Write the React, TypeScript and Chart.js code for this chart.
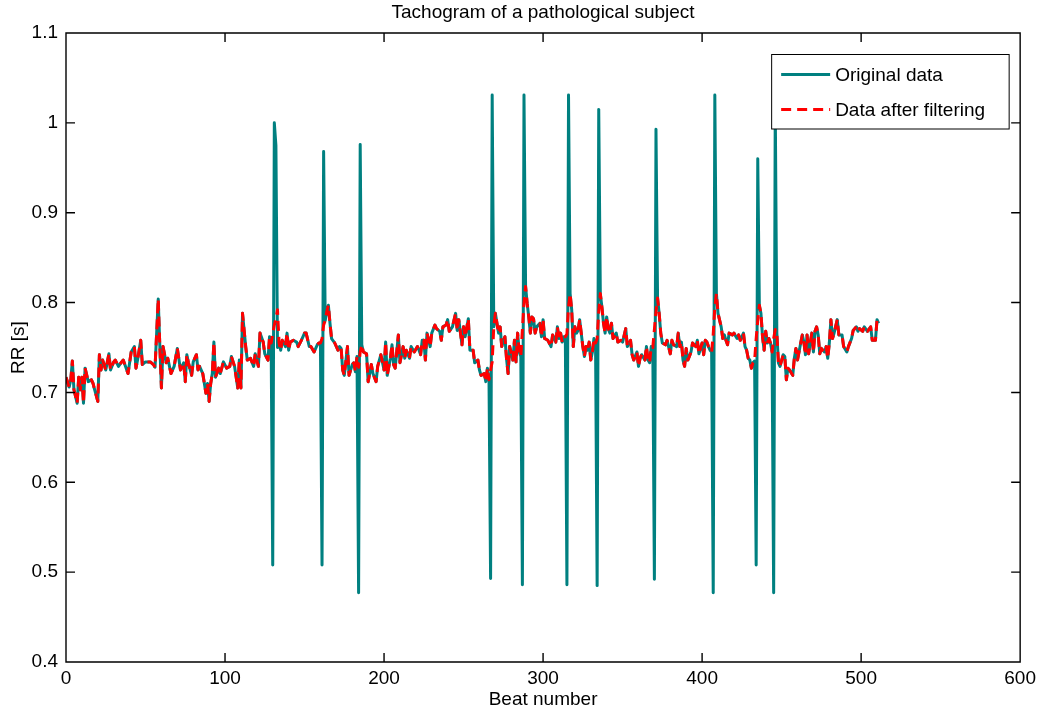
import React, { useEffect, useRef } from 'react';
import { Chart, registerables } from 'chart.js';

Chart.register(...registerables);

// ---- Data ----
const chartTitle = 'Tachogram of a pathological subject';
const xAxisLabel = 'Beat number';
const yAxisLabel = 'RR [s]';
const seriesNames = ['Original data', 'Data after filtering'];

// Beat numbers at which values were read
const beats = [
  0, 2, 3, 4, 5, 7, 8, 9, 10, 11,
  12, 14, 16, 17, 18, 20, 21, 22, 23, 25,
  26, 27, 28, 30, 31, 33, 35, 36, 39, 41,
  43, 44, 45, 47, 48, 50, 51, 53, 55, 56,
  58, 59, 60, 61, 63, 64, 66, 68, 70, 72,
  74, 75, 76, 77, 79, 80, 82, 83, 84, 86,
  88, 89, 90, 91, 92, 93, 94, 96, 97, 99,
  101, 103, 104, 106, 107, 108, 109, 110, 111, 113,
  114, 116, 118, 119, 121, 122, 124, 125, 127, 128,
  129, 130, 131, 132, 133, 134, 135, 136, 138, 139,
  140, 141, 143, 145, 146, 148, 150, 151, 153, 154,
  156, 158, 159, 160, 161, 162, 163, 164, 165, 166,
  167, 169, 171, 172, 173, 174, 175, 177, 178, 180,
  181, 182, 183, 184, 185, 186, 187, 189, 190, 192,
  193, 195, 196, 198, 200, 201, 202, 204, 205, 206,
  207, 209, 210, 212, 213, 214, 216, 217, 219, 221,
  222, 223, 224, 225, 226, 227, 229, 230, 232, 233,
  235, 236, 237, 239, 240, 241, 243, 245, 246, 247,
  249, 250, 251, 253, 254, 256, 257, 259, 260, 261,
  263, 264, 265, 266, 267, 268, 269, 270, 272, 273,
  274, 276, 277, 278, 279, 281, 282, 283, 284, 285,
  286, 287, 288, 289, 290, 291, 292, 293, 294, 295,
  296, 298, 299, 300, 301, 303, 305, 306, 308, 309,
  310, 311, 312, 313, 314, 315, 316, 317, 318, 319,
  320, 321, 322, 323, 324, 325, 326, 327, 328, 329,
  330, 331, 332, 333, 334, 335, 336, 337, 338, 339,
  340, 341, 342, 343, 344, 346, 347, 349, 350, 352,
  353, 355, 356, 357, 359, 360, 361, 362, 364, 365,
  366, 367, 368, 369, 370, 371, 372, 373, 374, 375,
  377, 378, 380, 381, 382, 384, 385, 386, 387, 388,
  389, 390, 391, 392, 393, 394, 396, 397, 398, 400,
  401, 402, 403, 404, 405, 406, 407, 408, 409, 410,
  412, 413, 414, 415, 416, 417, 419, 420, 422, 423,
  424, 426, 427, 428, 429, 430, 431, 432, 433, 434,
  435, 436, 437, 438, 439, 440, 441, 442, 443, 444,
  445, 446, 447, 448, 449, 451, 452, 453, 454, 455,
  457, 458, 459, 460, 462, 463, 464, 465, 466, 467,
  468, 469, 470, 471, 472, 473, 474, 475, 477, 478,
  479, 480, 481, 482, 483, 485, 486, 488, 489, 491,
  492, 494, 495, 497, 498, 499, 501, 502, 504, 506,
  507, 509, 510, 511,
];

// RR intervals after filtering (s), one per entry of `beats`
const filteredRR = [
  0.717, 0.706, 0.714, 0.735, 0.703, 0.688, 0.717, 0.703, 0.717, 0.688,
  0.727, 0.712, 0.714, 0.710, 0.703, 0.690, 0.742, 0.725, 0.736, 0.725,
  0.734, 0.743, 0.725, 0.734, 0.736, 0.729, 0.734, 0.736, 0.721, 0.745,
  0.751, 0.727, 0.736, 0.758, 0.731, 0.734, 0.734, 0.734, 0.731, 0.728,
  0.804, 0.752, 0.705, 0.751, 0.733, 0.738, 0.721, 0.729, 0.749, 0.725,
  0.733, 0.712, 0.742, 0.733, 0.719, 0.734, 0.742, 0.725, 0.729, 0.721,
  0.699, 0.710, 0.690, 0.710, 0.721, 0.756, 0.717, 0.727, 0.721, 0.734,
  0.727, 0.729, 0.740, 0.729, 0.717, 0.705, 0.736, 0.705, 0.788, 0.751,
  0.736, 0.738, 0.729, 0.743, 0.729, 0.766, 0.756, 0.743, 0.736, 0.762,
  0.755, 0.765, 0.775, 0.782, 0.792, 0.755, 0.747, 0.758, 0.751, 0.766,
  0.747, 0.756, 0.758, 0.756, 0.751, 0.758, 0.766, 0.766, 0.751, 0.751,
  0.745, 0.753, 0.755, 0.755, 0.760, 0.775, 0.780, 0.790, 0.797, 0.777,
  0.760, 0.755, 0.747, 0.751, 0.749, 0.725, 0.719, 0.751, 0.719, 0.731,
  0.733, 0.723, 0.740, 0.728, 0.745, 0.753, 0.745, 0.743, 0.712, 0.731,
  0.721, 0.712, 0.729, 0.742, 0.725, 0.756, 0.719, 0.738, 0.753, 0.731,
  0.727, 0.764, 0.733, 0.751, 0.738, 0.747, 0.738, 0.751, 0.745, 0.751,
  0.747, 0.742, 0.758, 0.758, 0.736, 0.766, 0.751, 0.766, 0.775, 0.771,
  0.768, 0.758, 0.773, 0.775, 0.781, 0.768, 0.773, 0.788, 0.769, 0.781,
  0.753, 0.773, 0.762, 0.782, 0.747, 0.747, 0.733, 0.736, 0.725, 0.719,
  0.721, 0.712, 0.727, 0.714, 0.725, 0.734, 0.773, 0.788, 0.766, 0.773,
  0.751, 0.762, 0.738, 0.721, 0.751, 0.736, 0.758, 0.734, 0.766, 0.745,
  0.740, 0.770, 0.800, 0.818, 0.799, 0.784, 0.766, 0.784, 0.782, 0.766,
  0.773, 0.777, 0.762, 0.781, 0.760, 0.758, 0.751, 0.764, 0.756, 0.773,
  0.760, 0.766, 0.756, 0.762, 0.762, 0.765, 0.795, 0.810, 0.792, 0.751,
  0.773, 0.766, 0.769, 0.781, 0.766, 0.751, 0.740, 0.751, 0.747, 0.756,
  0.736, 0.745, 0.760, 0.755, 0.760, 0.790, 0.810, 0.795, 0.777, 0.766,
  0.784, 0.771, 0.766, 0.777, 0.760, 0.766, 0.756, 0.758, 0.756, 0.771,
  0.751, 0.758, 0.742, 0.736, 0.745, 0.729, 0.738, 0.742, 0.736, 0.751,
  0.736, 0.733, 0.751, 0.750, 0.770, 0.790, 0.805, 0.788, 0.766, 0.755,
  0.753, 0.758, 0.743, 0.758, 0.753, 0.751, 0.766, 0.751, 0.756, 0.736,
  0.729, 0.749, 0.736, 0.740, 0.745, 0.755, 0.751, 0.758, 0.743, 0.755,
  0.742, 0.758, 0.756, 0.751, 0.747, 0.745, 0.765, 0.795, 0.810, 0.788,
  0.773, 0.760, 0.764, 0.758, 0.753, 0.766, 0.764, 0.766, 0.760, 0.764,
  0.758, 0.766, 0.751, 0.747, 0.738, 0.736, 0.727, 0.733, 0.735, 0.760,
  0.780, 0.797, 0.788, 0.762, 0.747, 0.768, 0.755, 0.760, 0.755, 0.745,
  0.760, 0.770, 0.766, 0.733, 0.729, 0.742, 0.740, 0.714, 0.727, 0.725,
  0.719, 0.738, 0.749, 0.736, 0.755, 0.764, 0.756, 0.742, 0.764, 0.743,
  0.755, 0.766, 0.745, 0.768, 0.773, 0.764, 0.743, 0.749, 0.745, 0.751,
  0.738, 0.755, 0.781, 0.760, 0.766, 0.781, 0.764, 0.764, 0.751, 0.745,
  0.751, 0.760, 0.769, 0.773, 0.768, 0.771, 0.768, 0.773, 0.768, 0.773,
  0.758, 0.758, 0.781, 0.777,
];

// Ectopic (premature / compensatory) beats in the original data, removed by the filter
const ectopicBeats = [
  130, 131, 132, 133, 161, 162, 184, 185, 267, 268, 287, 288,
  315, 316, 334, 335, 370, 371, 407, 408, 434, 435, 445, 446,
];
const ectopicRR = [
  0.508, 1.0, 0.975, 0.75, 0.508, 0.968, 0.477, 0.976, 0.493, 1.031, 0.486, 1.031,
  0.486, 1.031, 0.485, 1.015, 0.492, 0.993, 0.477, 1.031, 0.508, 0.96, 0.477, 1.02,
];

const xRange = [0, 600];
const xStep = 100;
const yRange = [0.4, 1.1];
const yStep = 0.1;

// ---- Styles ----
const TEAL = 'rgb(0,128,128)';
const RED = 'rgb(255,0,0)';
const FONT_FAMILY = "'Liberation Sans', Arial, Helvetica, sans-serif";
const FONT_SIZE = 19;
const DASH = [10, 6];

const matlabFrame = {
  id: 'matlabFrame',
  afterDraw(chart: any) {
    const { ctx, chartArea } = chart;
    const { left, right, top, bottom } = chartArea;
    const xs = chart.scales.x;
    const ys = chart.scales.y;
    const tickLen = 9;
    ctx.save();

    // Title centred over the axes
    ctx.fillStyle = '#000';
    ctx.font = `${FONT_SIZE}px ${FONT_FAMILY}`;
    ctx.textAlign = 'center';
    ctx.textBaseline = 'middle';
    ctx.fillText(chartTitle, (left + right) / 2, 12.4);

    ctx.strokeStyle = '#000';
    ctx.lineWidth = 1.4;
    ctx.setLineDash([]);
    ctx.beginPath();
    ctx.rect(left, top, right - left, bottom - top);
    xs.ticks.forEach((t: any) => {
      const px = xs.getPixelForValue(t.value);
      ctx.moveTo(px, bottom);
      ctx.lineTo(px, bottom - tickLen);
      ctx.moveTo(px, top);
      ctx.lineTo(px, top + tickLen);
    });
    ys.ticks.forEach((t: any) => {
      const py = ys.getPixelForValue(t.value);
      ctx.moveTo(left, py);
      ctx.lineTo(left + tickLen, py);
      ctx.moveTo(right, py);
      ctx.lineTo(right - tickLen, py);
    });
    ctx.stroke();

    // Legend (inside the axes, top right)
    const bx = right - 248.5;
    const by = top + 21.5;
    const bw = 237.5;
    const bh = 74.5;
    ctx.fillStyle = '#fff';
    ctx.fillRect(bx, by, bw, bh);
    ctx.lineWidth = 1;
    ctx.strokeStyle = '#000';
    ctx.strokeRect(bx, by, bw, bh);

    const lx0 = bx + 9.5;
    const lx1 = bx + 58.5;
    const row1 = by + 20;
    const row2 = by + 55;
    ctx.lineWidth = 3;
    ctx.strokeStyle = TEAL;
    ctx.beginPath();
    ctx.moveTo(lx0, row1);
    ctx.lineTo(lx1, row1);
    ctx.stroke();
    ctx.strokeStyle = RED;
    ctx.setLineDash(DASH);
    ctx.beginPath();
    ctx.moveTo(lx0, row2);
    ctx.lineTo(lx1, row2);
    ctx.stroke();
    ctx.setLineDash([]);

    ctx.fillStyle = '#000';
    ctx.textAlign = 'left';
    ctx.textBaseline = 'middle';
    ctx.fillText(seriesNames[0], bx + 63.5, row1 + 1);
    ctx.fillText(seriesNames[1], bx + 63.5, row2 + 1);
    ctx.restore();
  },
};

export default function App() {
  const ref = useRef<HTMLCanvasElement>(null);

  useEffect(() => {
    if (!ref.current) return;
    const originalRR = beats.map((b, i) => {
      const k = ectopicBeats.indexOf(b);
      return k >= 0 ? ectopicRR[k] : filteredRR[i];
    });
    const font = { family: FONT_FAMILY, size: FONT_SIZE, weight: 'normal' as const };

    const chart = new Chart(ref.current, {
      type: 'line',
      data: {
        datasets: [
          {
            label: seriesNames[1],
            data: beats.map((b, i) => ({ x: b, y: filteredRR[i] })),
            borderColor: RED,
            backgroundColor: RED,
            borderWidth: 3,
            borderDash: DASH,
            borderJoinStyle: 'round',
            pointRadius: 0,
            tension: 0,
            fill: false,
            order: 0,
          },
          {
            label: seriesNames[0],
            data: beats.map((b, i) => ({ x: b, y: originalRR[i] })),
            borderColor: TEAL,
            backgroundColor: TEAL,
            borderWidth: 3,
            borderJoinStyle: 'round',
            pointRadius: 0,
            tension: 0,
            fill: false,
            order: 1,
          },
        ],
      },
      options: {
        animation: false,
        responsive: false,
        devicePixelRatio: 1,
        events: [],
        layout: { padding: { left: 0, right: 20, top: 33, bottom: 0 } },
        plugins: {
          legend: { display: false },
          tooltip: { enabled: false },
          title: { display: false },
        },
        scales: {
          x: {
            type: 'linear',
            min: xRange[0],
            max: xRange[1],
            ticks: {
              stepSize: xStep,
              color: '#000',
              font,
              padding: 5,
              maxRotation: 0,
              autoSkip: false,
            },
            grid: { display: false, drawTicks: false },
            border: { display: false },
            title: {
              display: true,
              text: xAxisLabel,
              color: '#000',
              font,
              padding: { top: 0, bottom: 4 },
            },
            afterFit: (s: any) => {
              s.height = 53;
            },
          },
          y: {
            type: 'linear',
            min: yRange[0],
            max: yRange[1],
            ticks: {
              stepSize: yStep,
              color: '#000',
              font,
              padding: 8,
              callback: (v: any) => String(Math.round(Number(v) * 10) / 10),
            },
            grid: { display: false, drawTicks: false },
            border: { display: false },
            title: {
              display: true,
              text: yAxisLabel,
              color: '#000',
              font,
              padding: { top: 7, bottom: 0 },
            },
            afterFit: (s: any) => {
              s.width = 66;
            },
          },
        },
      },
      plugins: [matlabFrame],
    });
    return () => chart.destroy();
  }, []);

  return (
    <div style={{ position: 'fixed', left: 0, top: 0, width: 1041, height: 715, background: '#fff' }}>
      <canvas ref={ref} width={1041} height={715} style={{ display: 'block' }} />
    </div>
  );
}
